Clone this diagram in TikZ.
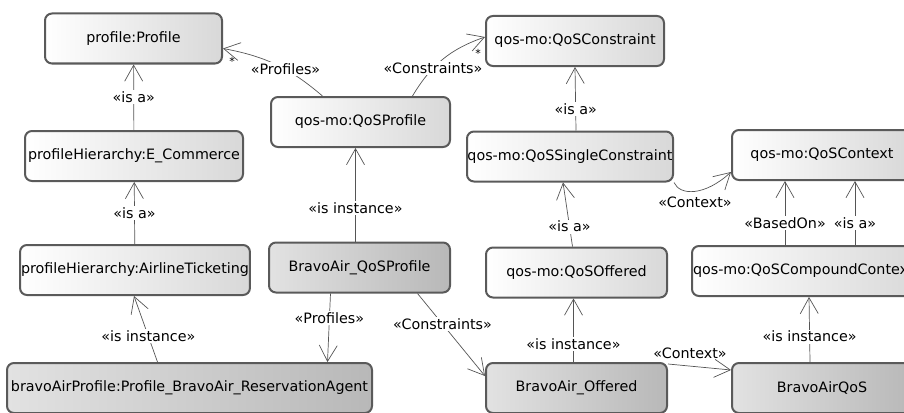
\documentclass[tikz,border=0pt]{standalone}
\usepackage{fontspec}
\setmainfont{DejaVu Sans}
\usepackage{tikz}
\usetikzlibrary{arrows.meta,positioning}
\definecolor{boxline}{HTML}{5A5A5A}
\definecolor{edgeline}{HTML}{555555}
\definecolor{typeright}{HTML}{D8D8D8}
\definecolor{instleft}{HTML}{E2E2E2}
\definecolor{instright}{HTML}{B8B8B8}
\tikzset{
  umlbox/.style={
    rectangle, rounded corners=7pt, draw=boxline, line width=2pt,
    minimum height=50pt, inner sep=1pt, align=center,
    font=\fontsize{14.3}{16}\selectfont
  },
  typebox/.style={umlbox, left color=white, right color=typeright},
  instbox/.style={umlbox, left color=instleft, right color=instright},
  umlarrow/.style={-{Straight Barb[length=16pt,width=18pt]}, draw=edgeline, line width=0.7pt},
  lbl/.style={fill=white, inner sep=1.5pt, font=\fontsize{14.3}{16}\selectfont},
  plainlbl/.style={inner sep=1.5pt, font=\fontsize{14.3}{16}\selectfont},
  mult/.style={inner sep=0pt, font=\fontsize{11}{12}\selectfont}
}
\begin{document}
\begin{tikzpicture}[x=1pt,y=-1pt]
\useasboundingbox (0,0) rectangle (904,412);

% profile side
\node[typebox, minimum width=177pt] (profile) at (133.5,38.5) {profile:Profile};
\node[typebox, minimum width=218pt] (ecom) at (134,156) {profileHierarchy:E\_Commerce};
\node[typebox, minimum width=226pt] (airl) at (135,270) {profileHierarchy:AirlineTicketing};
\node[instbox, minimum width=365pt] (bapr) at (189.5,388) {bravoAirProfile:Profile\_BravoAir\_ReservationAgent};

% qos profile
\node[typebox, minimum width=179pt] (qprof) at (360.5,122) {qos-mo:QoSProfile};
\node[instbox, minimum width=181pt] (bqprof) at (359.5,267.5) {BravoAir\_QoSProfile};

% constraints
\node[typebox, minimum width=178pt] (qcons) at (575,41) {qos-mo:QoSConstraint};
\node[typebox, minimum width=206pt, inner sep=0pt] (qsingle) at (570,156.5) {qos-mo:QoSSingleConstraint};
\node[typebox, minimum width=181pt] (qoff) at (576.5,272.5) {qos-mo:QoSOffered};
\node[instbox, minimum width=181pt] (boff) at (576.5,388) {BravoAir\_Offered};

% context
\node[typebox, minimum width=180pt] (qctx) at (822,155) {qos-mo:QoSContext};
\node[typebox, text width=230pt, align=left] (qcomp) at (808,271) {qos-mo:QoSCompoundContext};
\node[instbox, minimum width=180pt] (bqos) at (822,388) {BravoAirQoS};

% generalisations and instances
\draw[umlarrow] (ecom) -- node[lbl]{«is a»} (profile);
\draw[umlarrow] (airl) -- node[lbl]{«is a»} (ecom);
\draw[umlarrow] ([xshift=-32pt]bapr.north) -- node[lbl,pos=0.39]{«is instance»} ([xshift=-1pt]airl.south);
\draw[umlarrow] ([xshift=-4pt]bqprof.north) -- node[lbl,pos=0.36]{«is instance»} ([xshift=-5pt]qprof.south);
\draw[umlarrow] ([xshift=6pt]qsingle.north) -- node[lbl,pos=0.34]{«is a»} (qcons.south);
\draw[umlarrow] ([xshift=-4pt]qoff.north) -- node[lbl,pos=0.31]{«is a»} ([xshift=-7pt]qsingle.south);
\draw[umlarrow] ([xshift=-3pt]boff.north) -- node[lbl,pos=0.28]{«is instance»} ([xshift=-3pt]qoff.south);
\draw[umlarrow] ([xshift=-23pt]qcomp.north) -- node[lbl,pos=0.34]{«BasedOn»} ([xshift=-37pt]qctx.south);
\draw[umlarrow] ([xshift=47pt]qcomp.north) -- node[lbl,pos=0.34]{«is a»} ([xshift=33pt]qctx.south);
\draw[umlarrow] ([xshift=-12pt]bqos.north) -- node[lbl,pos=0.39]{«is instance»} ([xshift=1pt]qcomp.south);

% associations
\draw[umlarrow] ([xshift=-38pt]qprof.north) to[bend right=15] node[lbl,pos=0.4]{«Profiles»} ([yshift=-10pt]profile.east);
\node[mult] (profmult) at (232,61) {*};
\draw[umlarrow] ([xshift=52pt]qprof.north) to[bend left=20] node[lbl,pos=0.35]{«Constraints»} ([yshift=4pt]qcons.west);
\node[mult] (consmult) at (478,53) {*};
\draw[umlarrow] (qsingle.south east) .. controls (680,196) and (705,196) .. node[plainlbl,below=4pt]{«Context»} ([yshift=-17pt]qctx.west);
\draw[umlarrow] ([xshift=-29pt]bqprof.south) -- node[lbl,pos=0.36]{«Profiles»} ([xshift=138pt]bapr.north);
\draw[umlarrow] ([xshift=58pt]bqprof.south) -- node[lbl,pos=0.37]{«Constraints»} ([yshift=12pt]boff.west);
\draw[umlarrow] ([yshift=24pt]boff.east) -- node[plainlbl,above=6pt,pos=0.35]{«Context»} ([yshift=18pt]bqos.west);
\end{tikzpicture}
\end{document}
